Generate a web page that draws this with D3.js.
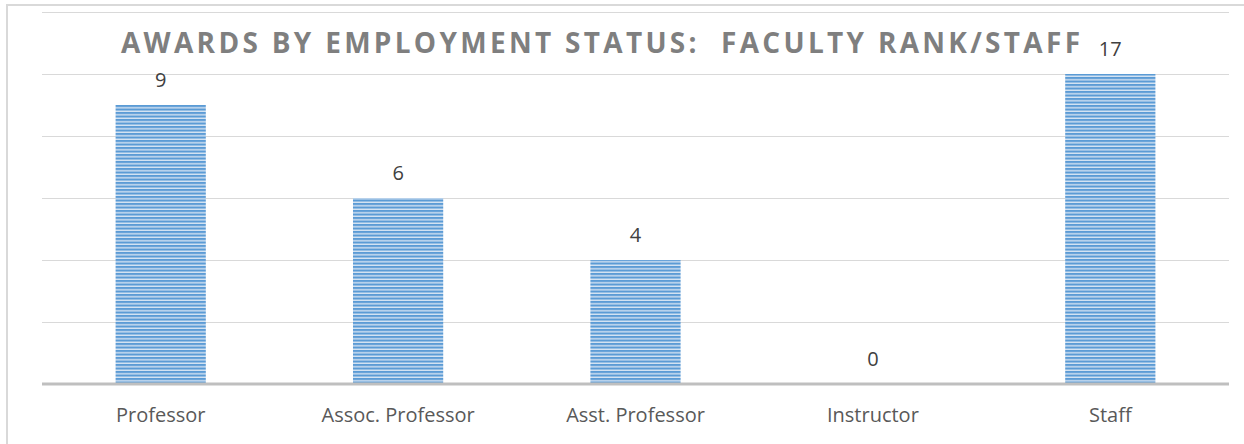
<!DOCTYPE html>
<html>
<head>
  <meta charset="UTF-8">
  <title>Awards by Employment Status</title>
  <script src="https://cdn.jsdelivr.net/npm/d3@7"></script>
  <style>
    body { margin: 0; background: #fff; }
    text { font-family: "Open Sans", sans-serif; }
  </style>
</head>
<body>
  <svg id="chart" width="1244" height="444"></svg>
  <script>
    // values
    const categories = ['Professor', 'Assoc. Professor', 'Asst. Professor', 'Instructor', 'Staff'];
    const awards = [9, 6, 4, 0, 17];
    const yTicks = [0, 2, 4, 6, 8, 10, 12];
    const titleText = 'AWARDS BY EMPLOYMENT STATUS:  FACULTY RANK/STAFF';
    // the staff bar is cut off at this height in the original
    const barCap = 10;

    const svg = d3.select('#chart');
    const margin = { left: 42, right: 15, top: 12, bottom: 60 };
    const width = 1244, height = 444;

    // striped fill
    const defs = svg.append('defs');
    const pat = defs.append('pattern')
      .attr('id', 'stripes')
      .attr('patternUnits', 'userSpaceOnUse')
      .attr('width', 8).attr('height', 3.5);
    pat.append('rect').attr('width', 8).attr('height', 3.5).attr('fill', '#d6e4f3');
    pat.append('rect').attr('width', 8).attr('height', 2.1).attr('fill', '#5b9bd5');

    // outer chart border
    svg.append('rect')
      .attr('x', 7).attr('y', 5)
      .attr('width', 1300).attr('height', 500)
      .attr('fill', 'none').attr('stroke', '#d9d9d9').attr('stroke-width', 2);

    const x = d3.scaleBand()
      .domain(categories)
      .range([margin.left, width - margin.right])
      .paddingInner(0.62).paddingOuter(0.31);

    const y = d3.scaleLinear()
      .domain([0, 12])
      .range([height - margin.bottom, margin.top]);

    // gridlines
    svg.append('g')
      .selectAll('line')
      .data(yTicks.filter(t => t > 0))
      .enter().append('line')
        .attr('x1', margin.left).attr('x2', width - margin.right)
        .attr('y1', d => Math.round(y(d)) + 0.5).attr('y2', d => Math.round(y(d)) + 0.5)
        .attr('stroke', '#d9d9d9');

    // bars
    svg.append('g')
      .selectAll('rect')
      .data(awards)
      .enter().append('rect')
        .attr('x', (d, i) => x(categories[i]))
        .attr('width', x.bandwidth())
        .attr('y', d => y(Math.min(d, barCap)))
        .attr('height', d => y(0) - y(Math.min(d, barCap)))
        .attr('fill', 'url(#stripes)');

    // baseline
    svg.append('line')
      .attr('x1', margin.left).attr('x2', width - margin.right)
      .attr('y1', y(0)).attr('y2', y(0))
      .attr('stroke', '#bfbfbf').attr('stroke-width', 3);

    // data labels
    svg.append('g')
      .selectAll('text')
      .data(awards)
      .enter().append('text')
        .attr('x', (d, i) => x(categories[i]) + x.bandwidth() / 2)
        .attr('y', d => y(Math.min(d, barCap)) - 18)
        .attr('text-anchor', 'middle')
        .attr('font-size', 20)
        .attr('fill', '#404040')
        .text(d => d);

    // category axis
    const xAxis = svg.append('g')
      .attr('transform', `translate(0,${y(0)})`)
      .call(d3.axisBottom(x).tickSize(0).tickPadding(0));
    xAxis.select('.domain').remove();
    xAxis.selectAll('text')
      .attr('dy', 0).attr('y', 38)
      .attr('font-size', 20)
      .attr('font-family', '"Open Sans", sans-serif')
      .attr('fill', '#595959');

    // title
    svg.append('text')
      .attr('x', 121).attr('y', 53)
      .attr('font-size', 28)
      .attr('font-weight', 'bold')
      .attr('fill', '#7f7f7f')
      .attr('textLength', 959)
      .attr('lengthAdjust', 'spacing')
      .style('white-space', 'pre')
      .text(titleText);
  </script>
</body>
</html>
